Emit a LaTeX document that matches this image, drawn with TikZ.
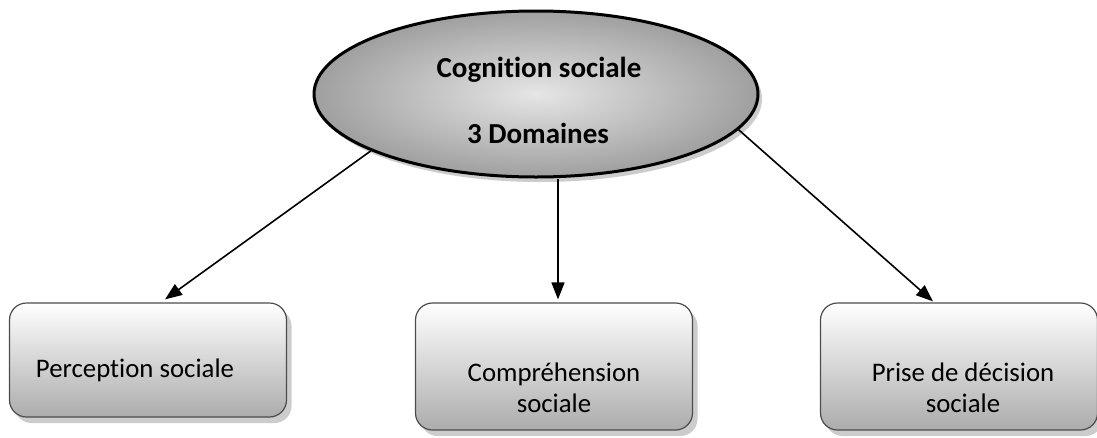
\documentclass[tikz,border=0pt]{standalone}
\usepackage{fontspec}
\setmainfont[Ligatures=NoCommon]{Carlito}
\usetikzlibrary{shapes.geometric,shadows,arrows.meta,calc}
\begin{document}
\begin{tikzpicture}[x=1pt,y=-1pt,
  ovalbox/.style={ellipse, draw=black, line width=3pt, minimum width=444pt, minimum height=166pt,
    inner color=gray!20, outer color=gray!75,
    drop shadow={shadow xshift=4pt, shadow yshift=-5pt, fill=gray!50, opacity=0.8}},
  domainbox/.style={rectangle, rounded corners=17pt, draw=gray!60!black, line width=1.2pt,
    top color=white, bottom color=gray!65, minimum width=277pt,
    drop shadow={shadow xshift=5pt, shadow yshift=-6pt, fill=gray!50, opacity=0.8}},
  boxtext/.style={font=\fontsize{26.8}{31}\selectfont, align=center, inner sep=0pt},
  titletext/.style={font=\bfseries\fontsize{29}{30}\selectfont, inner sep=0pt},
  conn/.style={line width=1.6pt, -{Triangle[length=17pt,width=13pt]}}
]
\useasboundingbox (0,0) rectangle (1097,437);
\node[ovalbox] (ell) at (536,94) {};
\node[titletext] (t1) at (539,70) {Cognition sociale};
\node[titletext] (t2) at (538,133) {3 Domaines};

\node[domainbox, minimum height=114pt] (p1) at (148,360) {};
\node[domainbox, minimum height=127pt] (p2) at (554,366.5) {};
\node[domainbox, minimum height=127pt] (p3) at (959,366.5) {};

\node[boxtext] (l1) at (135,370) {Perception sociale};
\node[boxtext] (l2) at (554,388) {Compréhension\\sociale};
\node[boxtext] (l3) at (963,388) {Prise de décision\\sociale};

\coordinate (a1) at ($(p1.north)+(17,-3)$);
\coordinate (a2) at ($(p2.north)+(4,-3)$);
\coordinate (a3) at ($(p3.north)+(-26,-1)$);
\draw[conn] (ell.199) -- (a1);
\draw[conn] (ell.south -| a2) -- (a2);
\draw[conn] (ell.350.5) -- (a3);
\end{tikzpicture}
\end{document}
